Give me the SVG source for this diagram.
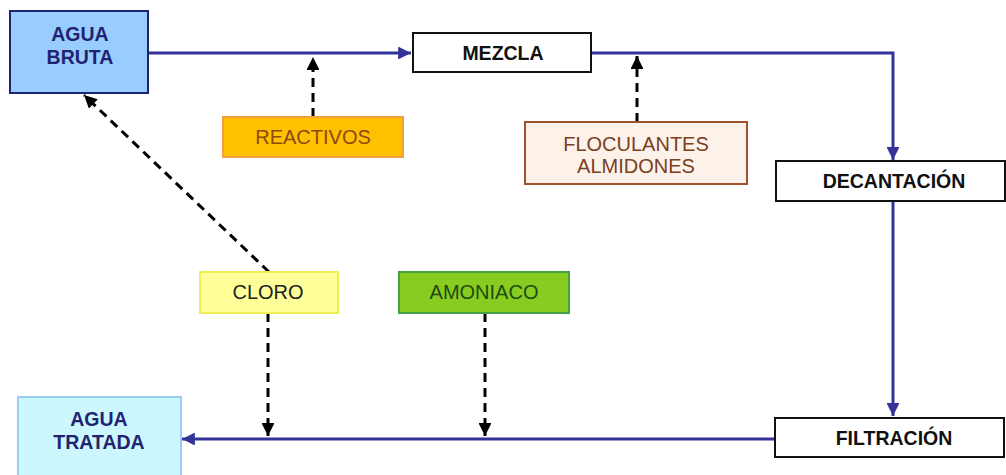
<svg xmlns="http://www.w3.org/2000/svg" width="1006" height="475" viewBox="0 0 1006 475">
<defs>
<style>
.bold{font-family:"Liberation Sans",Arial,sans-serif;font-weight:bold;font-size:19.5px;text-anchor:middle}
.reg{font-family:"Liberation Sans",Arial,sans-serif;font-size:20px;text-anchor:middle}
.flow{fill:none;stroke:#33339A;stroke-width:3}
.dash{fill:none;stroke:#000;stroke-width:3;stroke-dasharray:9,6}
.proc{fill:#fff;stroke:#111;stroke-width:2}
</style>
<marker id="ab" viewBox="0 0 10 10" refX="10" refY="5" markerWidth="4.3" markerHeight="4.3" markerUnits="strokeWidth" orient="auto"><path d="M0,0 L10,5 L0,10 z" fill="#33339A"/></marker>
<marker id="ak" viewBox="0 0 10 10" refX="10" refY="5" markerWidth="4.3" markerHeight="4.3" markerUnits="strokeWidth" orient="auto"><path d="M0,0 L10,5 L0,10 z" fill="#000"/></marker>
</defs>
<rect width="1006" height="475" fill="#fff"/>
<g id="connectors">
<path class="flow" d="M148,53 H411" marker-end="url(#ab)"/>
<path class="flow" d="M591,53 H893 V160" marker-end="url(#ab)"/>
<path class="flow" d="M893,202 V416" marker-end="url(#ab)"/>
<path class="flow" d="M775,439 H182" marker-end="url(#ab)"/>
<path class="dash" d="M313,117 V57" marker-end="url(#ak)"/>
<path class="dash" d="M637,122 V56" marker-end="url(#ak)"/>
<path class="dash" d="M269,272 L84,95" marker-end="url(#ak)"/>
<path class="dash" d="M268,313 V436" marker-end="url(#ak)"/>
<path class="dash" d="M485,313 V436" marker-end="url(#ak)"/>
</g>
<g id="agua-bruta">
<rect x="10" y="11" width="138" height="82" fill="#99CCFF" stroke="#1F2370" stroke-width="2"/>
<text class="bold" x="80" y="41" fill="#1F2370">AGUA</text>
<text class="bold" x="80" y="64" fill="#1F2370">BRUTA</text>
</g>
<g id="mezcla">
<rect class="proc" x="413" y="33" width="178" height="39"/>
<text class="bold" x="503" y="60" fill="#111">MEZCLA</text>
</g>
<g id="decantacion">
<rect class="proc" x="776" y="161" width="229" height="40"/>
<text class="bold" x="894" y="188" fill="#111">DECANTACIÓN</text>
</g>
<g id="filtracion">
<rect class="proc" x="775" y="418" width="229" height="39"/>
<text class="bold" x="894" y="445" fill="#111">FILTRACIÓN</text>
</g>
<g id="agua-tratada">
<rect x="18" y="397" width="163" height="90" fill="#CCF7FF" stroke="#99CCEE" stroke-width="2"/>
<text class="bold" x="99" y="426" fill="#1F2370">AGUA</text>
<text class="bold" x="99" y="449" fill="#1F2370">TRATADA</text>
</g>
<g id="reactivos">
<rect x="223" y="117" width="180" height="40" fill="#FFC000" stroke="#F0A040" stroke-width="2"/>
<text class="reg" x="313" y="144" fill="#8B4A10">REACTIVOS</text>
</g>
<g id="floculantes">
<rect x="525" y="122" width="222" height="62" fill="#FDF2EA" stroke="#A0522D" stroke-width="2"/>
<text class="reg" x="636" y="151" fill="#7A4020">FLOCULANTES</text>
<text class="reg" x="636" y="173" fill="#7A4020">ALMIDONES</text>
</g>
<g id="cloro">
<rect x="200" y="272" width="138" height="41" fill="#FFFF99" stroke="#EEEE55" stroke-width="2"/>
<text class="reg" x="268" y="299" fill="#222">CLORO</text>
</g>
<g id="amoniaco">
<rect x="399" y="272" width="170" height="41" fill="#88CC22" stroke="#44A044" stroke-width="2"/>
<text class="reg" x="484" y="299" fill="#1F4A10">AMONIACO</text>
</g>
</svg>
